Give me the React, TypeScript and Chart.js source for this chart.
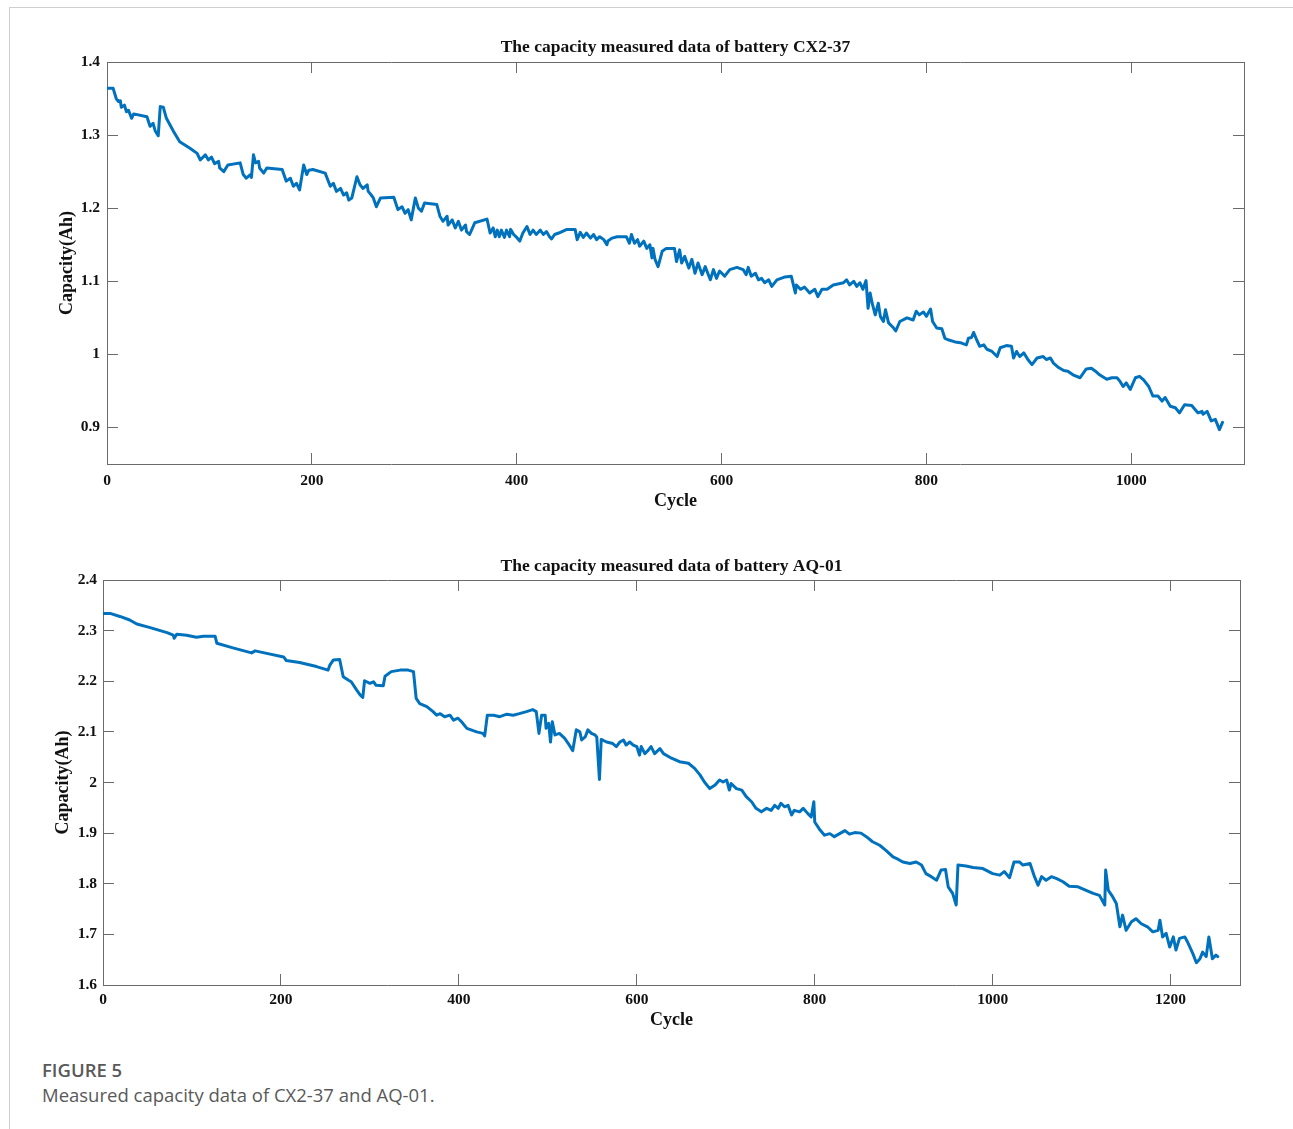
import React, { useEffect, useRef } from "react";
import { Chart, registerables } from "chart.js";

Chart.register(...registerables);

// ---------- Data ----------
const cx2Cycles = [
  1, 6, 9, 11, 13, 14, 17, 19, 21, 24, 26, 39, 42, 45, 47, 50, 52, 55, 58, 65,
  71, 81, 88, 91, 96, 99, 102, 105, 109, 110, 114, 118, 130, 133, 136, 140, 141, 143, 145, 148,
  149, 153, 156, 171, 175, 179, 182, 185, 188, 192, 195, 197, 201, 213, 218, 221, 224, 228, 231, 234,
  236, 239, 244, 247, 250, 254, 255, 258, 260, 263, 267, 280, 284, 288, 291, 294, 297, 301, 304, 307,
  310, 322, 325, 328, 332, 333, 337, 340, 343, 346, 350, 351, 354, 359, 371, 374, 377, 379, 381, 383,
  385, 388, 390, 393, 394, 397, 400, 403, 406, 410, 413, 416, 419, 423, 426, 429, 432, 434, 437, 441,
  449, 457, 459, 462, 465, 468, 472, 475, 478, 481, 485, 488, 489, 493, 498, 507, 510, 512, 515, 518,
  520, 524, 527, 530, 532, 533, 535, 538, 542, 546, 554, 556, 559, 561, 564, 568, 571, 574, 577, 581,
  584, 589, 592, 595, 598, 603, 608, 615, 621, 624, 626, 629, 633, 636, 639, 642, 646, 649, 654, 662,
  668, 672, 673, 677, 681, 686, 691, 694, 698, 703, 709, 719, 722, 725, 729, 732, 735, 738, 741, 743,
  745, 747, 750, 753, 755, 758, 760, 763, 768, 770, 774, 781, 787, 790, 793, 797, 800, 804, 806, 810,
  815, 818, 821, 828, 833, 839, 841, 844, 846, 849, 852, 856, 859, 864, 869, 872, 878, 883, 885, 888,
  891, 895, 899, 903, 908, 914, 917, 921, 924, 929, 934, 938, 943, 950, 956, 961, 965, 969, 976, 981,
  986, 989, 992, 995, 999, 1004, 1008, 1012, 1017, 1021, 1026, 1030, 1033, 1038, 1043, 1047, 1052, 1059, 1062, 1065,
  1069, 1070, 1074, 1078, 1082, 1086, 1089,
];
const cx2Capacity = [
  1.364, 1.364, 1.35, 1.346, 1.347, 1.338, 1.341, 1.332, 1.334, 1.323, 1.329, 1.325, 1.312, 1.316, 1.306, 1.299, 1.339, 1.338, 1.323, 1.305,
  1.291, 1.282, 1.275, 1.266, 1.273, 1.266, 1.27, 1.261, 1.264, 1.255, 1.25, 1.259, 1.262, 1.246, 1.241, 1.246, 1.242, 1.273, 1.262, 1.264,
  1.255, 1.248, 1.255, 1.253, 1.237, 1.241, 1.23, 1.234, 1.225, 1.259, 1.246, 1.252, 1.253, 1.248, 1.23, 1.234, 1.223, 1.227, 1.218, 1.221,
  1.211, 1.214, 1.243, 1.232, 1.227, 1.232, 1.223, 1.218, 1.214, 1.202, 1.214, 1.215, 1.198, 1.202, 1.193, 1.198, 1.184, 1.214, 1.2, 1.196,
  1.207, 1.205, 1.189, 1.182, 1.189, 1.177, 1.184, 1.173, 1.182, 1.17, 1.177, 1.168, 1.164, 1.18, 1.185, 1.166, 1.173, 1.161, 1.17, 1.161,
  1.17, 1.16, 1.17, 1.161, 1.171, 1.164, 1.16, 1.155, 1.166, 1.175, 1.164, 1.17, 1.164, 1.17, 1.164, 1.168, 1.161, 1.158, 1.164, 1.166,
  1.171, 1.171, 1.157, 1.167, 1.16, 1.166, 1.159, 1.164, 1.157, 1.161, 1.157, 1.15, 1.155, 1.159, 1.161, 1.161, 1.152, 1.164, 1.152, 1.157,
  1.148, 1.155, 1.145, 1.15, 1.132, 1.145, 1.13, 1.12, 1.141, 1.145, 1.145, 1.127, 1.143, 1.125, 1.134, 1.118, 1.13, 1.111, 1.125, 1.109,
  1.12, 1.102, 1.116, 1.104, 1.114, 1.107, 1.116, 1.119, 1.116, 1.109, 1.119, 1.107, 1.111, 1.102, 1.104, 1.098, 1.102, 1.093, 1.102, 1.106,
  1.107, 1.084, 1.095, 1.089, 1.092, 1.084, 1.089, 1.079, 1.089, 1.089, 1.095, 1.098, 1.102, 1.095, 1.1, 1.093, 1.098, 1.089, 1.101, 1.063,
  1.084, 1.07, 1.054, 1.07, 1.052, 1.045, 1.061, 1.043, 1.036, 1.032, 1.045, 1.05, 1.047, 1.059, 1.054, 1.058, 1.052, 1.062, 1.045, 1.036,
  1.035, 1.022, 1.02, 1.017, 1.016, 1.013, 1.022, 1.023, 1.03, 1.02, 1.011, 1.013, 1.007, 1.004, 0.997, 1.009, 1.012, 1.011, 0.995, 1.004,
  0.997, 1.002, 0.993, 0.986, 0.995, 0.997, 0.993, 0.995, 0.988, 0.982, 0.978, 0.977, 0.972, 0.968, 0.98, 0.981, 0.977, 0.972, 0.966, 0.968,
  0.968, 0.963, 0.956, 0.961, 0.952, 0.968, 0.97, 0.965, 0.956, 0.943, 0.943, 0.936, 0.941, 0.929, 0.927, 0.92, 0.931, 0.93, 0.925, 0.92,
  0.922, 0.918, 0.922, 0.909, 0.911, 0.897, 0.907,
];
const cx2XTicks = [0, 200, 400, 600, 800, 1000];
const cx2YTicks = [0.9, 1, 1.1, 1.2, 1.3, 1.4];

const aqCycles = [
  0, 8, 19, 30, 38, 53, 72, 79, 80, 83, 94, 105, 113, 126, 128, 146, 167, 171, 184, 203,
  206, 221, 240, 253, 255, 259, 266, 270, 276, 279, 285, 289, 292, 294, 300, 304, 307, 315, 317, 324,
  334, 343, 349, 352, 356, 364, 371, 375, 379, 384, 390, 394, 399, 403, 409, 420, 427, 429, 432, 439,
  446, 454, 461, 468, 476, 483, 487, 490, 493, 497, 498, 501, 503, 505, 508, 513, 519, 523, 528, 532,
  536, 538, 542, 545, 549, 553, 555, 558, 560, 566, 573, 577, 581, 585, 588, 592, 596, 600, 603, 605,
  609, 613, 616, 620, 626, 630, 639, 648, 658, 665, 671, 676, 682, 688, 693, 697, 701, 704, 706, 712,
  718, 723, 729, 734, 740, 746, 751, 755, 759, 762, 766, 770, 774, 777, 783, 787, 792, 796, 799, 800,
  806, 811, 817, 822, 828, 834, 839, 845, 852, 858, 865, 873, 880, 888, 894, 899, 907, 914, 920, 925,
  931, 937, 942, 947, 950, 955, 959, 961, 970, 978, 989, 1000, 1008, 1013, 1019, 1024, 1030, 1034, 1042, 1047,
  1051, 1055, 1060, 1066, 1072, 1079, 1086, 1096, 1105, 1113, 1120, 1126, 1127, 1130, 1135, 1139, 1143, 1146, 1150, 1156,
  1161, 1167, 1174, 1180, 1186, 1188, 1191, 1195, 1199, 1203, 1206, 1210, 1216, 1219, 1225, 1229, 1233, 1236, 1240, 1243,
  1247, 1251, 1253,
];
const aqCapacity = [
  2.334, 2.334, 2.328, 2.321, 2.313, 2.306, 2.296, 2.291, 2.285, 2.293, 2.291, 2.287, 2.289, 2.289, 2.275, 2.266, 2.256, 2.26, 2.255, 2.248,
  2.241, 2.237, 2.229, 2.222, 2.232, 2.242, 2.243, 2.209, 2.202, 2.199, 2.183, 2.173, 2.168, 2.201, 2.196, 2.199, 2.192, 2.191, 2.21, 2.219,
  2.222, 2.222, 2.219, 2.166, 2.156, 2.15, 2.14, 2.133, 2.136, 2.13, 2.133, 2.123, 2.127, 2.12, 2.107, 2.1, 2.097, 2.092, 2.133, 2.133,
  2.13, 2.135, 2.133, 2.136, 2.14, 2.144, 2.14, 2.097, 2.133, 2.133, 2.107, 2.117, 2.08, 2.12, 2.094, 2.097, 2.087, 2.077, 2.063, 2.104,
  2.1, 2.084, 2.09, 2.104, 2.097, 2.094, 2.09, 2.006, 2.085, 2.08, 2.077, 2.071, 2.08, 2.084, 2.074, 2.08, 2.074, 2.071, 2.054, 2.071,
  2.057, 2.064, 2.071, 2.057, 2.067, 2.057, 2.048, 2.041, 2.038, 2.028, 2.015, 2.001, 1.988, 1.995, 2.005, 2.001, 2.005, 1.985, 1.998, 1.988,
  1.985, 1.972, 1.962, 1.949, 1.942, 1.949, 1.945, 1.955, 1.949, 1.959, 1.952, 1.955, 1.936, 1.945, 1.942, 1.949, 1.939, 1.932, 1.962, 1.922,
  1.906, 1.896, 1.899, 1.893, 1.899, 1.905, 1.898, 1.901, 1.9, 1.893, 1.883, 1.876, 1.866, 1.853, 1.848, 1.843, 1.84, 1.843, 1.837, 1.82,
  1.814, 1.807, 1.827, 1.828, 1.794, 1.781, 1.758, 1.837, 1.835, 1.832, 1.83, 1.82, 1.817, 1.824, 1.812, 1.843, 1.843, 1.837, 1.84, 1.814,
  1.797, 1.814, 1.807, 1.814, 1.81, 1.804, 1.795, 1.794, 1.787, 1.781, 1.777, 1.758, 1.827, 1.787, 1.774, 1.761, 1.715, 1.738, 1.708, 1.725,
  1.731, 1.721, 1.715, 1.705, 1.708, 1.728, 1.695, 1.702, 1.675, 1.695, 1.669, 1.692, 1.695, 1.685, 1.662, 1.644, 1.652, 1.665, 1.656, 1.695,
  1.652, 1.659, 1.656,
];
const aqXTicks = [0, 200, 400, 600, 800, 1000, 1200];
const aqYTicks = [1.6, 1.7, 1.8, 1.9, 2, 2.1, 2.2, 2.3, 2.4];

// ---------- Styling ----------
const SERIF = "'Liberation Serif', 'Times New Roman', serif";
const AXIS = "#6b6b6b";
const LINE = "#0072BD";

type Geom = {
  top: number;
  height: number;
  right: number;
  yAxisW: number;
  xAxisH: number;
  titleTop: number;
  titleBottom: number;
  xTickPad: number;
  yTickPad: number;
  xTitlePad: number;
  yTitlePad: number;
};

type Props = {
  title: string;
  cycles: number[];
  values: number[];
  xTicks: number[];
  yTicks: number[];
  xMax: number;
  yMin: number;
  yMax: number;
  g: Geom;
};

const fixedTicks = (vals: number[]) => (scale: any) => {
  scale.ticks = vals.map((v) => ({ value: v }));
};

function CapacityChart({ title, cycles, values, xTicks, yTicks, xMax, yMin, yMax, g }: Props) {
  const ref = useRef<HTMLCanvasElement | null>(null);

  useEffect(() => {
    if (!ref.current) return;
    const tickFont = { family: SERIF, size: 15.5, weight: "bold" as const };
    const titleFont = { family: SERIF, size: 18, weight: "bold" as const };
    const tickGrid = {
      drawOnChartArea: false,
      drawTicks: true,
      tickLength: -11,
      color: AXIS,
      lineWidth: 1,
    };
    const border = { display: true, color: AXIS, width: 1 };

    const chart = new Chart(ref.current, {
      type: "line",
      data: {
        datasets: [
          {
            data: cycles.map((c, i) => ({ x: c, y: values[i] })),
            xAxisID: "x",
            yAxisID: "y",
            borderColor: LINE,
            backgroundColor: LINE,
            borderWidth: 3,
            pointRadius: 0,
            pointHoverRadius: 0,
            fill: false,
            tension: 0,
            borderJoinStyle: "round",
            borderCapStyle: "round",
          },
        ],
      },
      options: {
        animation: false,
        responsive: false,
        maintainAspectRatio: false,
        events: [],
        layout: { padding: { left: 0, right: g.right, top: 0, bottom: 0 } },
        plugins: {
          legend: { display: false },
          tooltip: { enabled: false },
          title: {
            display: true,
            text: title,
            fullSize: false,
            color: "#111",
            font: { family: SERIF, size: 17.5, weight: "bold" },
            padding: { top: g.titleTop, bottom: g.titleBottom },
          },
        },
        scales: {
          x: {
            type: "linear",
            position: "bottom",
            min: 0,
            max: xMax,
            afterBuildTicks: fixedTicks(xTicks),
            afterFit: (s: any) => {
              s.height = g.xAxisH;
            },
            ticks: {
              autoSkip: false,
              maxRotation: 0,
              padding: g.xTickPad,
              color: "#111",
              font: tickFont,
              callback: (v: any) => String(v),
            },
            grid: tickGrid,
            border,
            title: {
              display: true,
              text: "Cycle",
              color: "#111",
              font: titleFont,
              padding: { top: 0, bottom: g.xTitlePad },
            },
          },
          x2: {
            type: "linear",
            position: "top",
            min: 0,
            max: xMax,
            afterBuildTicks: fixedTicks(xTicks),
            afterFit: (s: any) => {
              s.height = 0;
            },
            ticks: { display: false },
            grid: tickGrid,
            border,
          },
          y: {
            type: "linear",
            position: "left",
            min: yMin,
            max: yMax,
            afterBuildTicks: fixedTicks(yTicks),
            afterFit: (s: any) => {
              s.width = g.yAxisW;
            },
            ticks: {
              autoSkip: false,
              padding: g.yTickPad,
              color: "#111",
              font: tickFont,
              callback: (v: any) => String(v),
            },
            grid: tickGrid,
            border,
            title: {
              display: true,
              text: "Capacity(Ah)",
              color: "#111",
              font: titleFont,
              padding: { top: g.yTitlePad, bottom: 0 },
            },
          },
          y2: {
            type: "linear",
            position: "right",
            min: yMin,
            max: yMax,
            afterBuildTicks: fixedTicks(yTicks),
            afterFit: (s: any) => {
              s.width = 0;
            },
            ticks: { display: false },
            grid: tickGrid,
            border,
          },
        },
      } as any,
    });
    return () => chart.destroy();
  }, [title, cycles, values, xTicks, yTicks, xMax, yMin, yMax, g]);

  return (
    <canvas
      ref={ref}
      width={1293}
      height={g.height}
      style={{ position: "absolute", left: 0, top: g.top, width: 1293, height: g.height }}
    />
  );
}

const geom1: Geom = {
  top: 0,
  height: 520,
  right: 49,
  yAxisW: 107,
  xAxisH: 56,
  titleTop: 37,
  titleBottom: 4,
  xTickPad: 19,
  yTickPad: 18,
  xTitlePad: 8,
  yTitlePad: 57,
};

const geom2: Geom = {
  top: 520,
  height: 530,
  right: 53,
  yAxisW: 103,
  xAxisH: 65,
  titleTop: 36,
  titleBottom: 3,
  xTickPad: 17,
  yTickPad: 17,
  xTitlePad: 19,
  yTitlePad: 53,
};

export default function App() {
  return (
    <div
      style={{
        position: "absolute",
        left: 0,
        top: 0,
        width: 1293,
        height: 1129,
        background: "#fff",
        overflow: "hidden",
      }}
    >
      <div
        style={{
          position: "absolute",
          left: 9,
          top: 7,
          width: 1293,
          height: 1129,
          borderTop: "1px solid #cfcfcf",
          borderLeft: "1px solid #cfcfcf",
        }}
      />
      <CapacityChart
        title="The capacity measured data of battery CX2-37"
        cycles={cx2Cycles}
        values={cx2Capacity}
        xTicks={cx2XTicks}
        yTicks={cx2YTicks}
        xMax={1110}
        yMin={0.85}
        yMax={1.4}
        g={geom1}
      />
      <CapacityChart
        title="The capacity measured data of battery AQ-01"
        cycles={aqCycles}
        values={aqCapacity}
        xTicks={aqXTicks}
        yTicks={aqYTicks}
        xMax={1278}
        yMin={1.6}
        yMax={2.4}
        g={geom2}
      />
      <div
        style={{
          position: "absolute",
          left: 42,
          top: 1060,
          fontFamily: "'Open Sans', 'Noto Sans', sans-serif",
          fontSize: 18.5,
          lineHeight: "20px",
          fontWeight: 600,
          color: "#595959",
          whiteSpace: "nowrap",
        }}
      >
        FIGURE 5
      </div>
      <div
        style={{
          position: "absolute",
          left: 42,
          top: 1085,
          fontFamily: "'Open Sans', 'Noto Sans', sans-serif",
          fontSize: 18.5,
          lineHeight: "20px",
          fontWeight: 400,
          color: "#595959",
          whiteSpace: "nowrap",
        }}
      >
        Measured capacity data of CX2-37 and AQ-01.
      </div>
    </div>
  );
}
